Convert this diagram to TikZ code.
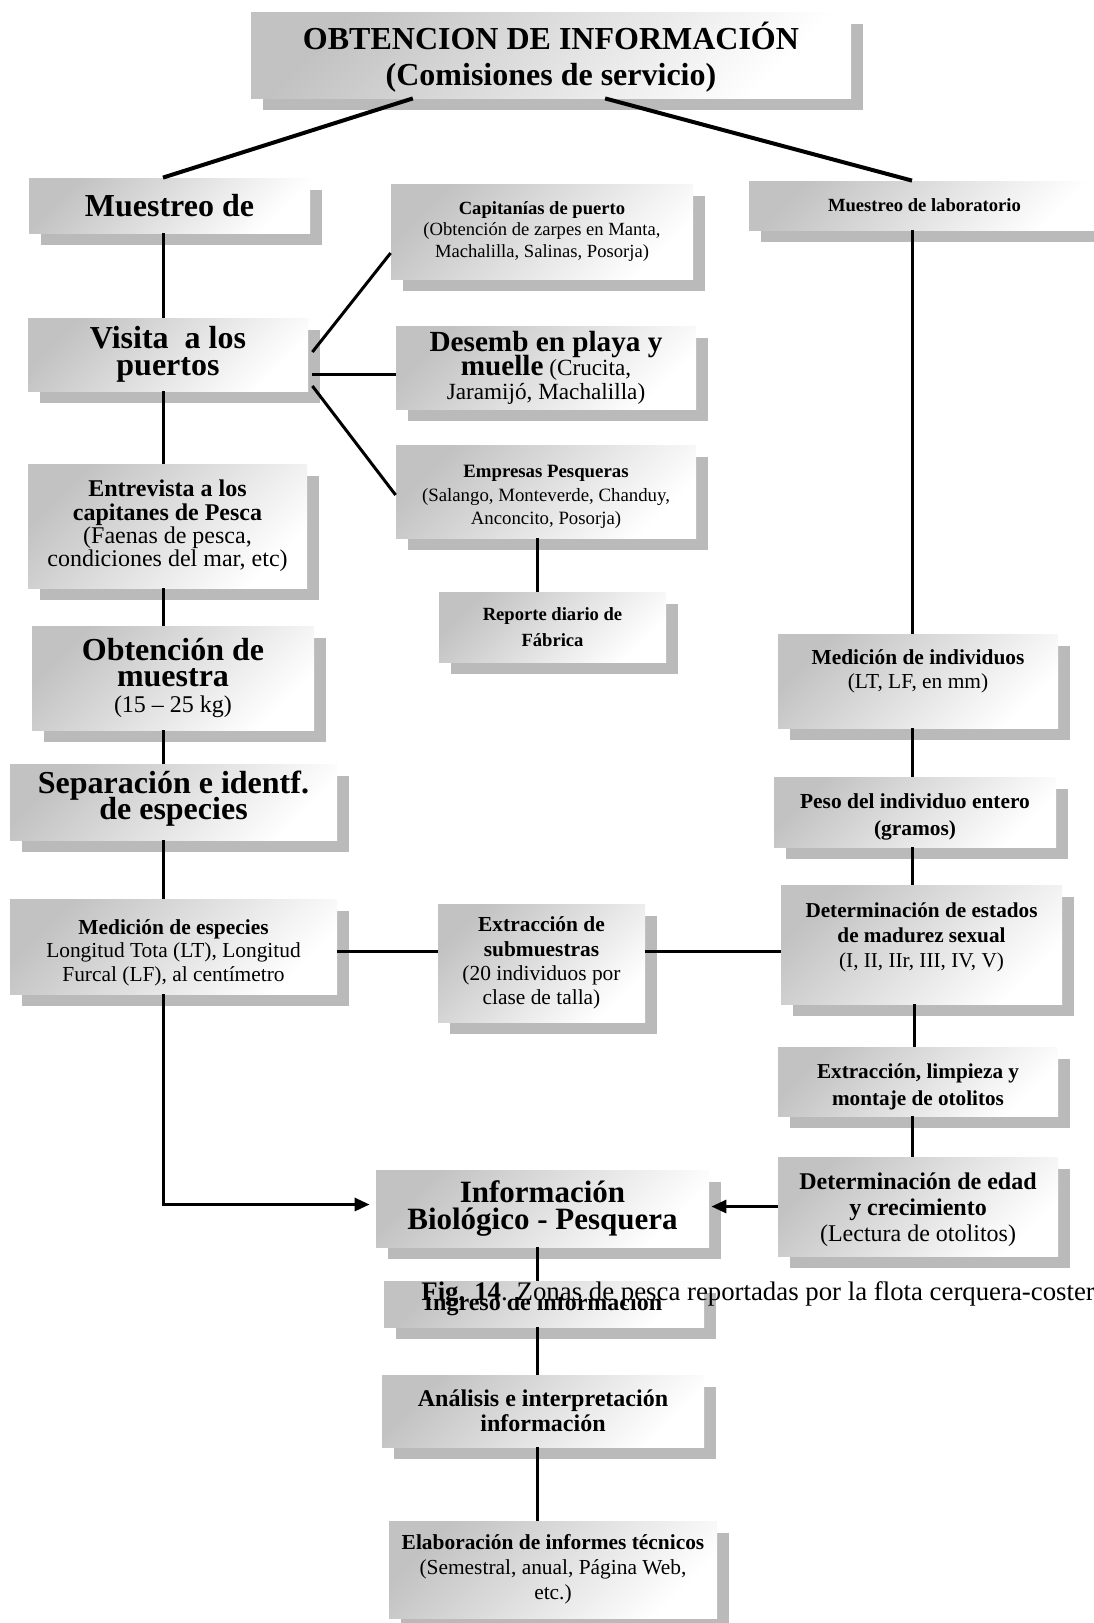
\documentclass[tikz,border=0pt]{standalone}
\usepackage{fontspec}
\setmainfont{Liberation Serif}
\usetikzlibrary{arrows.meta, positioning, calc, shadows}
\definecolor{grisSombra}{RGB}{186, 186, 186}
\definecolor{grisCaja}{RGB}{194, 194, 194}
\newcommand{\tam}[2]{\fontsize{#1}{#2}\selectfont\lineskiplimit=-\maxdimen}
\newcommand{\alto}[1]{\rule{0pt}{#1}}
\newcommand{\bajo}[1]{\rule[-#1]{0pt}{#1}}

\tikzset{
  caja/.style={rectangle, top color=grisCaja, bottom color=white, shading angle=45,
               drop shadow={fill=grisSombra, opacity=1, shadow xshift=6pt, shadow yshift=-6pt},
               align=center, inner sep=1pt},
  linea/.style={line width=1.5pt},
  lineaGruesa/.style={line width=2pt},
  flecha/.style={line width=1.5pt, -{Triangle[length=7.5pt, width=6.5pt]}}
}

\begin{document}
\begin{tikzpicture}[x=0.5pt, y=-0.5pt]
  \useasboundingbox (0,0) rectangle (1093,1623);

  % cabecera
  \node[caja, minimum width=300pt, minimum height=43pt, font=\tam{16}{18}\bfseries] (titulo) at (551,55)
    {\alto{15.5pt}OBTENCION DE INFORMACIÓN\\(Comisiones de servicio)};

  % columna izquierda
  \node[caja, minimum width=140.5pt, minimum height=27.5pt, font=\tam{16}{15}\bfseries] (muestreo) at (169.5,205.5)
    {Muestreo de};
  \node[caja, minimum width=140pt, minimum height=36.5pt, font=\tam{16}{13.5}\bfseries] (visita) at (168,354.5)
    {Visita\ \ a los\\puertos};
  \node[caja, minimum width=139.5pt, minimum height=62pt, font=\tam{12}{11.7}] (entrevista) at (167.5,526)
    {\textbf{Entrevista a los}\\\textbf{capitanes de Pesca}\\(Faenas de pesca,\\condiciones del mar, etc)};
  \node[caja, minimum width=141pt, minimum height=52pt, font=\tam{12}{13}] (obtencion) at (173,678)
    {{\tam{16}{13}\bfseries Obtención de}\\{\tam{16}{13}\bfseries muestra}\\(15 – 25 kg)};
  \node[caja, minimum width=163.5pt, minimum height=38pt, font=\tam{16}{13}\bfseries] (separacion) at (173.5,802)
    {Separación e identf.\\de especies\bajo{6.6pt}};
  \node[caja, minimum width=163.5pt, minimum height=47.5pt, font=\tam{10.7}{11.9}] (medesp) at (173.5,946.5)
    {\alto{13.6pt}\textbf{Medición de especies}\\Longitud Tota (LT), Longitud\\Furcal (LF), al centímetro};

  % columna central
  \node[caja, minimum width=151pt, minimum height=47.5pt, font=\tam{9.3}{10.9}] (capitanias) at (542,231.5)
    {\textbf{Capitanías de puerto}\\(Obtención de zarpes en Manta,\\Machalilla, Salinas, Posorja)};
  \node[caja, minimum width=150pt, minimum height=41.5pt, font=\tam{11.6}{12}] (desemb) at (546,367.5)
    {{\tam{14.6}{12}\bfseries Desemb en playa y}\\{\tam{14.6}{12}\bfseries muelle} (Crucita,\\Jaramijó, Machalilla)};
  \node[caja, minimum width=150pt, minimum height=46.5pt, font=\tam{9.4}{11.7}] (empresas) at (546,491.5)
    {\alto{11.6pt}\textbf{Empresas Pesqueras}\\(Salango, Monteverde, Chanduy,\\Anconcito, Posorja)};
  \node[caja, minimum width=113.5pt, minimum height=35pt, font=\tam{9.3}{13}\bfseries] (reporte) at (552.5,627)
    {Reporte diario de\\Fábrica};
  \node[caja, minimum width=103.5pt, minimum height=59pt, font=\tam{10.7}{12.1}] (extsub) at (541.5,963)
    {\textbf{Extracción de}\\\textbf{submuestras}\\(20 individuos por\\clase de talla)};
  \node[caja, minimum width=166.5pt, minimum height=38.5pt, font=\tam{15.5}{13.5}\bfseries] (info) at (542.5,1208.5)
    {Información\\Biológico - Pesquera};
  \node[caja, minimum width=160pt, minimum height=23pt] (ingreso) at (544,1304) {};
  \begin{scope}
    \clip (ingreso.west |- 0,1297) rectangle (ingreso.south east);
    \node[anchor=base, inner sep=0pt, font=\tam{12}{13}\bfseries] (ingresoTexto) at (543,1310)
      {Ingreso de información};
  \end{scope}
  \node[caja, minimum width=161pt, minimum height=36pt, font=\tam{12}{12.4}\bfseries] (analisis) at (543,1411)
    {Análisis e interpretación\\información};
  \node[caja, minimum width=164pt, minimum height=48.5pt, font=\tam{10.7}{12.4}] (elaboracion) at (553,1569.5)
    {\textbf{Elaboración de informes técnicos}\\(Semestral, anual, Página Web,\\etc.)};

  % columna derecha
  \node[caja, minimum width=175.5pt, minimum height=24.5pt, font=\tam{9.3}{11}\bfseries] (lab) at (924.5,205.5)
    {Muestreo de laboratorio};
  \node[caja, minimum width=140pt, minimum height=47pt, font=\tam{10.7}{11.9}] (medind) at (918,681)
    {\textbf{Medición de individuos}\\(LT, LF, en mm)\bajo{11.7pt}};
  \node[caja, minimum width=141pt, minimum height=35pt, font=\tam{10.7}{13.5}\bfseries] (peso) at (915,812)
    {\alto{12.5pt}Peso del individuo entero\\(gramos)};
  \node[caja, minimum width=140.5pt, minimum height=59.5pt, font=\tam{10.6}{12.4}] (detest) at (921.5,944.5)
    {\textbf{Determinación de estados}\\\textbf{de madurez sexual}\\(I, II, IIr, III, IV, V)\bajo{9.4pt}};
  \node[caja, minimum width=140pt, minimum height=34.5pt, font=\tam{10.6}{13.5}\bfseries] (extlimp) at (918,1081.5)
    {\alto{12.6pt}Extracción, limpieza y\\montaje de otolitos};
  \node[caja, minimum width=140pt, minimum height=49.5pt, font=\tam{12}{13}] (detedad) at (918,1206.5)
    {\alto{11.5pt}\textbf{Determinación de edad}\\\textbf{y crecimiento}\\(Lectura de otolitos)};

  % ejes de las lineas
  \coordinate (lineaIzq) at (163,0);
  \coordinate (lineaCen) at (537,0);
  \coordinate (lineaDer) at (912,0);
  \coordinate (lineaMedia) at (0,951);

  % conectores
  \draw[lineaGruesa] ($(titulo.south west)!0.27!(titulo.south east)$) -- (muestreo.north -| lineaIzq);
  \draw[lineaGruesa] ($(titulo.south west)!0.59!(titulo.south east)$) -- (lab.north -| lineaDer);

  \draw[linea] (muestreo.south -| lineaIzq) -- (visita.north -| lineaIzq);
  \draw[linea] (visita.south -| lineaIzq) -- (entrevista.north -| lineaIzq);
  \draw[linea] (entrevista.south -| lineaIzq) -- (obtencion.north -| lineaIzq);
  \draw[linea] (obtencion.south -| lineaIzq) -- (separacion.north -| lineaIzq);
  \draw[linea] (separacion.south -| lineaIzq) -- (medesp.north -| lineaIzq);
  \draw[flecha, shorten >=3pt] (medesp.south -| lineaIzq) -- ([yshift=2pt]info.west -| lineaIzq) -- ([yshift=2pt]info.west);

  \draw[linea] ([xshift=2pt, yshift=1.25pt]visita.east) -- ([yshift=-10.75pt]capitanias.west);
  \draw[linea] ([xshift=2pt, yshift=-9.75pt]visita.east) -- ([yshift=-9.75pt]visita.east -| desemb.west);
  \draw[linea] ([xshift=2pt, yshift=-15.75pt]visita.east) -- ([yshift=-1.75pt]empresas.west);
  \draw[linea] (empresas.south -| lineaCen) -- (reporte.north -| lineaCen);

  \draw[linea] (medesp.east |- lineaMedia) -- (extsub.west |- lineaMedia);
  \draw[linea] (extsub.east |- lineaMedia) -- (detest.west |- lineaMedia);

  \draw[linea] (lab.south -| lineaDer) -- (medind.north -| lineaDer);
  \draw[linea] (medind.south -| lineaDer) -- (peso.north -| lineaDer);
  \draw[linea] (peso.south -| lineaDer) -- (detest.north -| lineaDer);
  \draw[linea] ([xshift=1pt]detest.south -| lineaDer) -- ([xshift=1pt]extlimp.north -| lineaDer);
  \draw[linea] (extlimp.south -| lineaDer) -- (detedad.north -| lineaDer);
  \draw[flecha, shorten >=1pt] (detedad.west) -- (detedad.west -| info.east);

  \draw[linea] (info.south -| lineaCen) -- (ingreso.north -| lineaCen);
  \draw[linea] (ingreso.south -| lineaCen) -- (analisis.north -| lineaCen);
  \draw[linea] (analisis.south -| lineaCen) -- (elaboracion.north -| lineaCen);

  % pie de figura
  \node[anchor=base west, inner sep=0pt, font=\tam{13.4}{15}] (figura) at (421,1300)
    {\textbf{Fig. 14}. Zonas de pesca reportadas por la flota cerquera-coster};
\end{tikzpicture}
\end{document}
